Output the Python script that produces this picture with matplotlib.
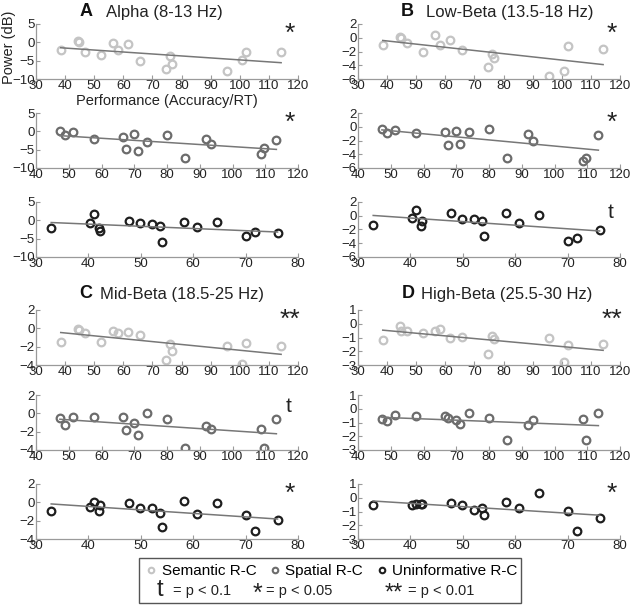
import numpy as np
import matplotlib
matplotlib.use('Agg')
import matplotlib.pyplot as plt
from matplotlib.lines import Line2D
from matplotlib.patches import Rectangle

plt.rcParams['font.family'] = ['Liberation Sans', 'DejaVu Sans']

# performance (accuracy/RT) per subject, one list per condition
sem_x = [38.5, 44.5, 44.7, 46.7, 52.2, 56.5, 58.2, 61.6, 65.8, 74.5, 75.9, 76.7, 95.5, 100.8, 102.2, 114.2]
spa_x = [47.3, 48.8, 51.2, 57.8, 66.6, 67.5, 69.8, 71.0, 73.8, 80.1, 85.6, 91.9, 93.3, 108.8, 109.6, 113.4]
uni_x = [32.9, 40.3, 41.0, 42.1, 42.2, 47.7, 49.8, 52.1, 53.6, 54.0, 58.3, 60.8, 64.5, 70.0, 71.7, 76.1]

# power (dB)
alpha_sem = [-2.1, 0.4, 0.1, -2.7, -3.5, -0.1, -2.2, -0.5, -5.0, -7.2, -3.7, -5.9, -7.8, -4.8, -2.7, -2.5]
alpha_spa = [0.0, -1.1, -0.2, -2.0, -1.5, -4.9, -0.7, -5.3, -3.0, -1.0, -7.4, -2.2, -3.4, -6.3, -4.6, -2.4]
alpha_uni = [-2.0, -0.7, 1.7, -2.2, -2.9, -0.2, -0.7, -1.0, -1.5, -5.8, -0.5, -1.9, -0.5, -4.4, -3.3, -3.5]

lowb_sem = [-1.0, 0.1, 0.0, -0.7, -2.0, 0.45, -1.0, -0.3, -1.8, -4.3, -2.3, -3.0, -5.6, -4.85, -1.15, -1.7]
lowb_spa = [-0.3, -0.9, -0.45, -0.9, -0.75, -2.7, -0.65, -2.55, -0.8, -0.35, -4.6, -1.0, -2.05, -5.0, -4.5, -1.2]
lowb_uni = [-1.3, -0.4, 0.85, -1.45, -0.7, 0.45, -0.5, -0.5, -0.7, -2.95, 0.45, -1.05, 0.15, -3.7, -3.2, -2.05]

midb_sem = [-1.5, -0.05, -0.2, -0.5, -1.45, -0.3, -0.5, -0.4, -0.75, -3.5, -1.75, -2.5, -1.95, -3.9, -1.65, -1.9]
midb_spa = [-0.5, -1.25, -0.35, -0.45, -0.4, -1.8, -1.0, -2.4, 0.0, -0.65, -3.75, -1.4, -1.75, -1.7, -3.75, -0.65]
midb_uni = [-0.9, -0.5, 0.0, -0.9, -0.3, -0.05, -0.6, -0.65, -1.15, -2.7, 0.1, -1.25, -0.1, -1.4, -3.1, -1.9]

highb_sem = [-1.15, -0.15, -0.55, -0.55, -0.65, -0.55, -0.4, -1.0, -0.95, -2.2, -0.9, -1.1, -1.05, -2.75, -1.55, -1.5]
highb_spa = [-0.75, -0.9, -0.45, -0.5, -0.5, -0.7, -0.85, -1.1, -0.3, -0.7, -2.25, -1.2, -0.8, -0.75, -2.3, -0.3]
highb_uni = [-0.5, -0.5, -0.45, -0.45, -0.45, -0.4, -0.55, -0.9, -0.75, -1.25, -0.3, -0.75, 0.35, -0.95, -2.4, -1.45]

# panel letter, band name, y ticks, data rows, significance per row
bands = [
    ('A', 'Alpha (8-13 Hz)', [-10, -5, 0, 5], [alpha_sem, alpha_spa, alpha_uni], ['*', '*', '']),
    ('B', 'Low-Beta (13.5-18 Hz)', [-6, -4, -2, 0, 2], [lowb_sem, lowb_spa, lowb_uni], ['*', '*', 't']),
    ('C', 'Mid-Beta (18.5-25 Hz)', [-4, -2, 0, 2], [midb_sem, midb_spa, midb_uni], ['**', 't', '*']),
    ('D', 'High-Beta (25.5-30 Hz)', [-3, -2, -1, 0, 1], [highb_sem, highb_spa, highb_uni], ['**', '', '*']),
]
xs = [sem_x, spa_x, uni_x]
xlims = [(30, 120), (40, 120), (30, 80)]
colors = ['#c4c4c4', '#6c6c6c', '#1e1e1e']
names = ['Semantic R-C', 'Spatial R-C', 'Uninformative R-C']

W, H = 640, 611
fig = plt.figure(figsize=(6.4, 6.11), dpi=100)


def px_rect(left, top, w, h):
    return [left / W, 1 - (top + h) / H, w / W, h / H]


col_left = [36, 358]
row_tops = [[24, 113, 202], [310, 395, 484]]
title_pos = [(80, 106, 12), (401, 426, 12), (79, 100, 294), (402, 421, 294)]

for b, (letter, band, yt, ys, sig) in enumerate(bands):
    col = b % 2
    blk = b // 2
    for r in range(3):
        ax = fig.add_axes(px_rect(col_left[col], row_tops[blk][r], 262, 55))
        x = np.array(xs[r])
        y = np.array(ys[r])
        ax.plot(x, y, 'o', mfc='none', mec=colors[r], ms=5.5, mew=1.6)
        # least squares fit line
        k, c0 = np.polyfit(x, y, 1)
        xx = np.array([x.min(), x.max()])
        ax.plot(xx, k * xx + c0, color='#777777', lw=1.1)
        ax.set_xlim(*xlims[r])
        ax.set_ylim(yt[0], yt[-1])
        ax.set_yticks(yt)
        ax.set_xticks(np.arange(xlims[r][0], xlims[r][1] + 1, 10))
        for s in ['top', 'right']:
            ax.spines[s].set_visible(False)
        for s in ['left', 'bottom']:
            ax.spines[s].set_color('#9a9a9a')
            ax.spines[s].set_linewidth(0.9)
        ax.tick_params(direction='in', length=3, color='#9a9a9a', labelsize=9.5,
                       labelcolor='#222222', pad=1)
        if sig[r]:
            if sig[r] == 't':
                ax.text(0.965, 0.8, 't', transform=ax.transAxes, ha='center', va='center',
                        fontsize=15, color='#222222')
            else:
                ax.text(0.968, 0.82, sig[r], transform=ax.transAxes, ha='center', va='center',
                        fontsize=19, color='#222222')
        if b == 0 and r == 0:
            ax.set_xlabel('Performance (Accuracy/RT)', fontsize=10.5, color='#222222', labelpad=1)
    lx, tx, ty = title_pos[b]
    fig.text(lx / W, 1 - ty / H, letter, fontsize=13, fontweight='bold', va='center', color='#111111')
    fig.text(tx / W, 1 - ty / H, band, fontsize=12, va='center', color='#222222')

fig.text(9 / W, 1 - 47 / H, 'Power (dB)', rotation=90, fontsize=10.5, ha='center', va='center',
         color='#222222')

# legend box
fig.patches.append(Rectangle((139 / W, 1 - 603 / H), 382 / W, 45 / H, transform=fig.transFigure,
                             fill=False, edgecolor='#555555', lw=1))
handles = [Line2D([], [], ls='none', marker='o', mfc='none', mec=c, ms=4, mew=1.5) for c in colors]
fig.legend(handles, names, ncol=3, loc='center', bbox_to_anchor=(332 / W, 1 - 571 / H),
           frameon=False, fontsize=11, handlelength=0.6, handletextpad=0.4, columnspacing=0.9,
           borderpad=0)
row2 = [(157, 't', 17, 590), (173, '= p < 0.1', 10.5, 591), (253, '*', 18, 594),
        (266, '= p < 0.05', 10.5, 591), (385, '**', 17, 594), (408, '= p < 0.01', 10.5, 591)]
for x0, s, fs, y0 in row2:
    fig.text(x0 / W, 1 - y0 / H, s, fontsize=fs, va='center', color='#222222')

fig.savefig('out.png', dpi=100)
